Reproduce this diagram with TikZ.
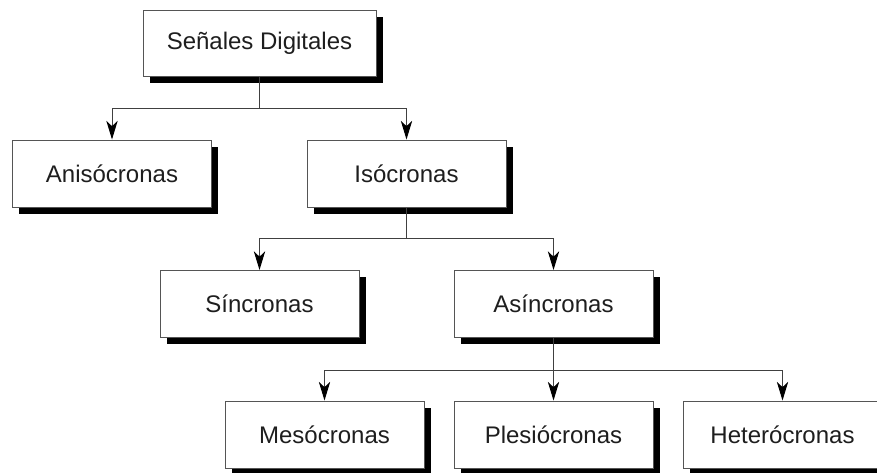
\documentclass[tikz,border=0pt]{standalone}
\usepackage{fontspec}
\setmainfont{Liberation Sans}
\usetikzlibrary{arrows.meta,shadows}
\definecolor{edgegray}{HTML}{555555}
\definecolor{linegray}{HTML}{404040}
\definecolor{textgray}{HTML}{1E1E1E}
\tikzset{
  box/.style={draw=edgegray, line width=0.75pt, fill=white, rectangle,
    minimum width=149.25pt, minimum height=50.25pt, inner sep=0pt,
    text=textgray, font=\fontsize{18}{21}\selectfont,
    drop shadow={shadow xshift=5pt, shadow yshift=-5pt, fill=black, opacity=1}},
  link/.style={draw=linegray, line width=0.75pt},
  arrowlink/.style={link, -{Stealth[length=14pt, width=8.5pt, inset=4pt, color=black]}}
}
\begin{document}
\begin{tikzpicture}[x=0.75pt, y=-0.75pt]
  \useasboundingbox (0,0) rectangle (877,472);

  % classification tree of digital signals
  \node[box, minimum width=174.75pt, minimum height=49.5pt] (root) at (259.5,43) {Señales Digitales};
  \node[box] (aniso)  at (112,173.5)   {Anisócronas};
  \node[box] (iso)    at (406.5,173.5) {Isócronas};
  \node[box] (sinc)   at (259.5,304)   {Síncronas};
  \node[box] (asinc)  at (553.5,304)   {Asíncronas};
  \node[box] (meso)   at (324.5,434.5) {Mesócronas};
  \node[box] (plesio) at (553.5,434.5) {Plesiócronas};
  \node[box] (hetero) at (782.5,434.5) {Heterócronas};

  % branching points of each level
  \coordinate (j1) at (root.south |- 0,108);
  \coordinate (j2) at (iso.south |- 0,238);
  \coordinate (j3) at (asinc.south |- 0,370);

  \draw[link] (root.south) -- (j1);
  \draw[arrowlink] (j1) -| (aniso.north);
  \draw[arrowlink] (j1) -| (iso.north);

  \draw[link] (iso.south) -- (j2);
  \draw[arrowlink] (j2) -| (sinc.north);
  \draw[arrowlink] (j2) -| (asinc.north);

  \draw[arrowlink] (asinc.south) -- (plesio.north);
  \draw[arrowlink] (j3) -| (meso.north);
  \draw[arrowlink] (j3) -| (hetero.north);
\end{tikzpicture}
\end{document}
